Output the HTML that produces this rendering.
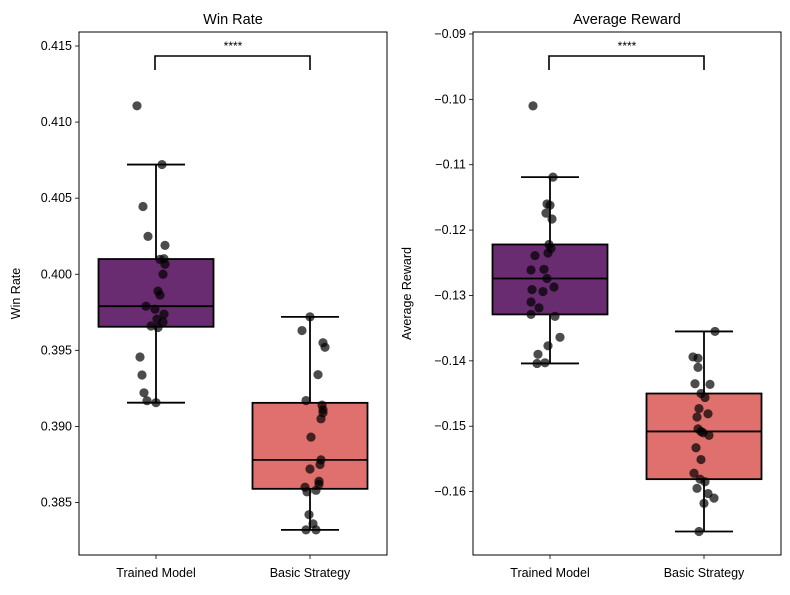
<!DOCTYPE html>
<html><head><meta charset="utf-8"><style>
body{margin:0;background:#fff;}
svg text{font-family:"Liberation Sans","DejaVu Sans",sans-serif;}
</style></head><body>
<svg id="c" width="790" height="590" xmlns="http://www.w3.org/2000/svg"></svg>
<script>
const categories = ["Trained Model","Basic Strategy"];
const winTrained = [0.41107,0.40721,0.40445,0.40249,0.40190,0.40102,0.40098,0.40066,0.40000,0.39889,0.39863,0.39790,0.39770,0.39738,0.39705,0.39686,0.39660,0.39650,0.39456,0.39338,0.39221,0.39169,0.39156];
const winBasic = [0.3972,0.3963,0.3955,0.3952,0.3934,0.3917,0.3914,0.3911,0.3909,0.3905,0.3893,0.3878,0.3875,0.3872,0.3864,0.3862,0.3860,0.3858,0.3857,0.3842,0.3836,0.3832,0.3832];
const rewTrained = [-0.1010,-0.1119,-0.1160,-0.1162,-0.1174,-0.1183,-0.1222,-0.1228,-0.1235,-0.1239,-0.1260,-0.1261,-0.1274,-0.1287,-0.1291,-0.1294,-0.1310,-0.1319,-0.1329,-0.1332,-0.1364,-0.1377,-0.1390,-0.1403,-0.1404];
const rewBasic = [-0.1355,-0.1394,-0.1396,-0.1410,-0.1435,-0.1436,-0.1450,-0.1456,-0.1473,-0.1481,-0.1486,-0.1504,-0.1508,-0.1510,-0.1514,-0.1533,-0.1551,-0.1572,-0.1581,-0.1585,-0.1595,-0.1603,-0.1610,-0.1618,-0.1661];
const jitWT = [-19,6,-13,-8,9,8,4,9,7,2,4,-10,-1,8,1,7,-5,2,-16,-14,-12,-9,0];
const jitWB = [0,-8,13,15,8,-4,12,13,13,11,1,11,10,0,9,9,-5,6,-3,-1,3,-4,6];
const jitRT = [-17,3,-3,0,-4,2,-1,1,-2,-15,-6,-19,-3,4,-18,-7,-19,-11,-19,5,10,-2,-12,-5,-13];
const jitRB = [11,-11,-6,-6,-9,6,-3,1,-5,4,-7,-6,-3,-1,5,-8,-3,-10,-4,1,-7,4,10,0,-5];
const winTicks = [0.385,0.390,0.395,0.400,0.405,0.410,0.415];
const rewTicks = [-0.16,-0.15,-0.14,-0.13,-0.12,-0.11,-0.10,-0.09];

const svg = document.getElementById('c');
const NS = 'http://www.w3.org/2000/svg';
function mk(tag, attrs, parent){const e=document.createElementNS(NS,tag);for(const k in attrs)e.setAttribute(k,attrs[k]);(parent||svg).appendChild(e);return e;}
function pct(arr,p){const s=[...arr].sort((a,b)=>a-b);const i=(s.length-1)*p;const lo=Math.floor(i),hi=Math.ceil(i);return s[lo]+(s[hi]-s[lo])*(i-lo);}

function panel(o){
  const g = mk('g',{});
  
  
  const L=o.x0,R=o.x0+308,T=32,B=555;
  const y=v=>B-(v-o.ymin)/(o.ymax-o.ymin)*(B-T);
  const xc=i=>L+308*(0.25+0.5*i);
  o.ticks.forEach(t=>{
    const yy=y(t);
    const tk=mk('line',{x1:L-4,x2:L,y1:yy,y2:yy,stroke:'#000','stroke-width':0.8},g);
    
    
    const lb=mk('text',{x:L-7,y:yy+4,'text-anchor':'end','font-size':12.5,fill:'#000'},g);
    
    
    lb.textContent=o.fmt(t);
  });
  categories.forEach((c,i)=>{
    const tk=mk('line',{x1:xc(i),x2:xc(i),y1:B,y2:B+4,stroke:'#000','stroke-width':0.8},g);
    
    
    const lb=mk('text',{x:xc(i),y:B+22,'text-anchor':'middle','font-size':12.5},g);
    
    
    lb.textContent=c;
  });
  const cols=['#6a2c70','#e0706d'];
  o.series.forEach((d,i)=>{
    const q1=pct(d,0.25),q3=pct(d,0.75),med=pct(d,0.5),iqr=q3-q1;
    const lo=Math.min(...d.filter(v=>v>=q1-1.5*iqr)),hi=Math.max(...d.filter(v=>v<=q3+1.5*iqr));
    const cx=xc(i),hw=57.5;
    const w1=mk('line',{x1:cx,x2:cx,y1:y(hi),y2:y(q3),stroke:'#000','stroke-width':1.8},g);
    
    
    const w2=mk('line',{x1:cx,x2:cx,y1:y(q1),y2:y(lo),stroke:'#000','stroke-width':1.8},g);
    
    
    [hi,lo].forEach(v=>{
      const cap=mk('line',{x1:cx-29,x2:cx+29,y1:y(v),y2:y(v),stroke:'#000','stroke-width':1.8},g);
      
      
    });
    const box=mk('rect',{x:cx-hw,y:y(q3),width:2*hw,height:y(q1)-y(q3),fill:cols[i],stroke:'#000','stroke-width':1.8},g);
    
    
    const m=mk('line',{x1:cx-hw,x2:cx+hw,y1:y(med),y2:y(med),stroke:'#000','stroke-width':1.8},g);
    
    
    d.forEach((v,j)=>{
      const p=mk('circle',{cx:cx+(o.jit[i][j]||0),cy:y(v),r:4.6,fill:'rgba(0,0,0,0.7)'},g);
      
      
    });
  });
  const fr=mk('rect',{x:L,y:T,width:308,height:B-T,fill:'none',stroke:'#000','stroke-width':1},g);
  
  
  const br=mk('path',{d:`M${xc(0)-1} 70 V56 H${xc(1)} V70`,fill:'none',stroke:'#000','stroke-width':1.6},g);
  
  
  const st=mk('text',{x:(xc(0)+xc(1))/2,y:50,'text-anchor':'middle','font-size':12},g);
  
  
  st.textContent='****';
  const ti=mk('text',{x:(L+R)/2,y:24,'text-anchor':'middle','font-size':14.5},g);
  
  
  ti.textContent=o.title;
  const yl=mk('text',{x:0,y:0,'text-anchor':'middle','font-size':12.5,transform:`translate(${o.ylx},${(T+B)/2}) rotate(-90)`},g);
  
  
  yl.textContent=o.title;
}
panel({name:'win-rate',x0:79,ymin:0.38155,ymax:0.41592,ticks:winTicks,fmt:t=>t.toFixed(3),series:[winTrained,winBasic],jit:[jitWT,jitWB],title:'Win Rate',ylx:20});
panel({name:'average-reward',x0:473,ymin:-0.1697,ymax:-0.0897,ticks:rewTicks,fmt:t=>(t<0?'\u2212':'')+Math.abs(t).toFixed(2),series:[rewTrained,rewBasic],jit:[jitRT,jitRB],title:'Average Reward',ylx:411});
</script>
</body></html>
